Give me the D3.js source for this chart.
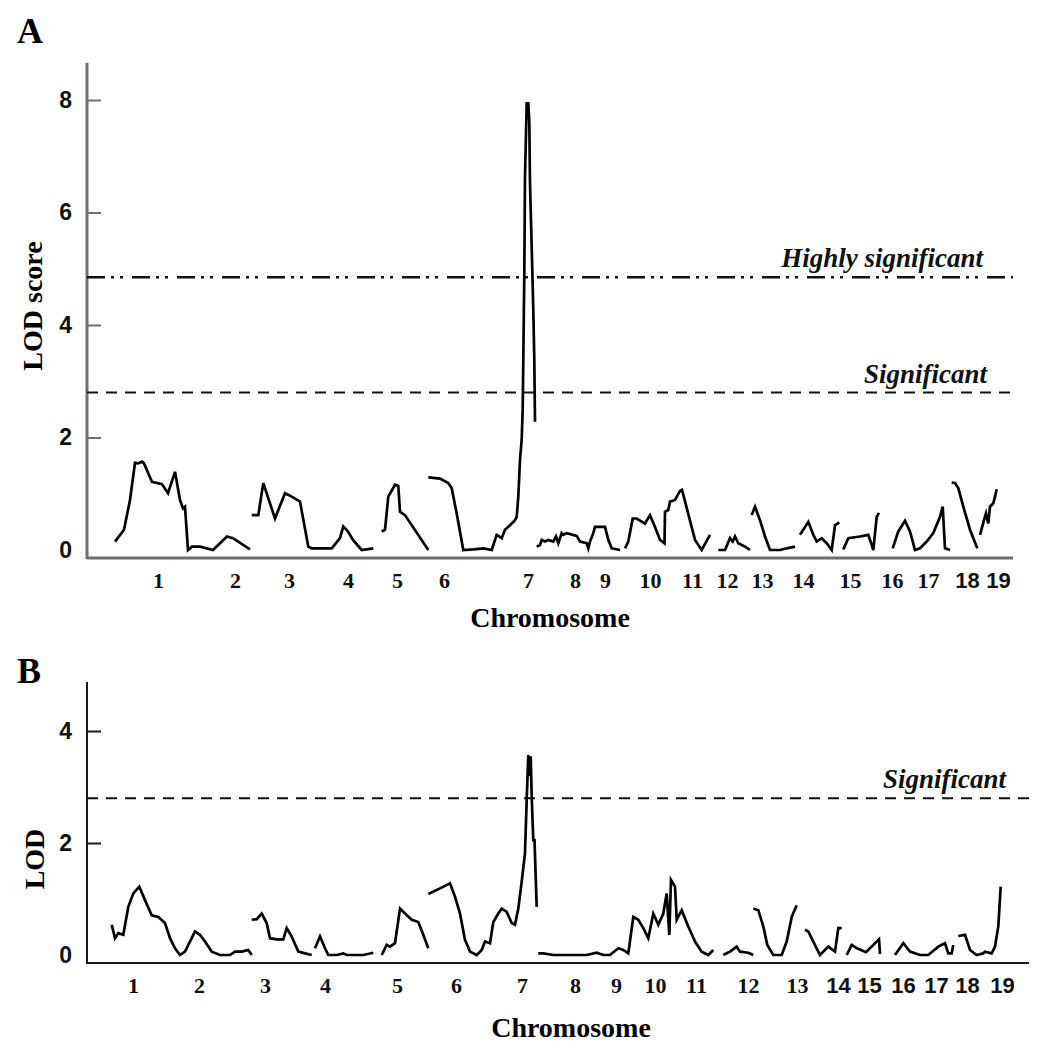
<!DOCTYPE html>
<html lang="en">
<head>
  <meta charset="UTF-8">
  <title>LOD score scan</title>
  <script src="https://d3js.org/d3.v7.min.js"></script>
  <style>
    body { margin: 0; padding: 0; background: #fff; }
    svg { display: block; }
    .serif { font-family: 'Liberation Serif', 'Times New Roman', serif; font-weight: bold; }
    .sans { font-family: 'Liberation Sans', Arial, sans-serif; font-weight: bold; }
  </style>
</head>
<body>
  <svg id="chart" width="1041" height="1050"></svg>

  <script>
    // chromosome names on the x axis
    const chromosomes = ["1","2","3","4","5","6","7","8","9","10","11","12","13","14","15","16","17","18","19"];

    // ---- panel A ----
    // label positions along the genome (map units from the axis origin)
    const labelPosA = [71,148,202,261,310,357,441,488,518,563,605,640,675,716,763,805,841,880,911];
    const sansLabelsA = ["18","19"];
    const yTicksA = [0,2,4,6,8];
    const significantA = 2.8;
    const highlySignificantA = 4.85;

    // LOD profile, one array of [position, LOD] per drawn stretch
    const segmentsA = [
      // chr 1-2
      [[28,0.15],[37,0.36],[43,0.89],[48,1.55],[51,1.54],[55,1.57],[57,1.54],[65,1.21],[75,1.17],[81,1.01],
       [88,1.39],[93,0.89],[96,0.74],[98,0.77],[101,0.0],[105,0.06],[113,0.06],[126,0.0],[140,0.24],[146,0.21],[163,0.01]],
      // chr 3-4
      [[164.7,0.62],[171.3,0.62],[176.3,1.19],[188,0.56],[198,1.01],[204.7,0.95],[213,0.86],[221.3,0.06],[224.7,0.03],
       [244.7,0.03],[253,0.21],[256.3,0.42],[261,0.33],[266,0.18],[274.7,0.0],[286.3,0.03]],
      // chr 5
      [[294.7,0.33],[298,0.36],[301.3,0.95],[308,1.16],[311.3,1.14],[313,0.68],[318,0.62],[341.3,0.0]],
      // chr 6-7
      [[341.3,1.29],[353,1.27],[361.3,1.19],[364.7,1.10],[369.7,0.65],[376.3,0.0],[386.3,0.01],[396.3,0.03],[404.7,0.0],
       [409.7,0.27],[414.7,0.21],[418,0.36],[423,0.44],[428,0.53],[429.7,0.59],[431.3,0.95],[433,1.60],[434.7,1.97],
       [435.7,2.5],[436.3,3.38],[437.3,4.92],[438,6.64],[439.7,7.94],[441.3,7.94],[442.3,7.61],[443,6.52],[444.7,5.39],
       [446.3,4.27],[447.3,3.38],[448,2.28]],
      // chr 8-9
      [[449.7,0.06],[453,0.09],[454.7,0.18],[458,0.15],[461.3,0.18],[466.3,0.15],[469,0.24],[471.3,0.12],[474.7,0.30],
       [476.3,0.27],[479.7,0.30],[489.7,0.25],[493,0.15],[499.7,0.12],[501.3,0.03],[503,0.15],[506.3,0.30],[508,0.41],
       [518,0.41],[521.3,0.18],[524.7,0.03],[533,0.0]],
      // chr 10-11
      [[538,0.03],[541.3,0.15],[545.7,0.56],[549.7,0.56],[558,0.47],[563,0.62],[568,0.41],[573,0.18],[577.5,0.12],
       [578,0.68],[581.3,0.71],[583,0.86],[588,0.89],[593,1.05],[595,1.07],[608,0.18],[614.7,0.0],[623,0.27]],
      // chr 12
      [[631.3,0.0],[638,0.0],[643,0.21],[645.7,0.15],[648,0.24],[651.3,0.12],[654.7,0.09],[658,0.06],[663,0.0]],
      // chr 13
      [[664.7,0.62],[668,0.77],[673,0.53],[678,0.24],[683,0.0],[693,0.0],[699.7,0.03],[708,0.06]],
      // chr 14
      [[713,0.27],[721.3,0.50],[726.3,0.27],[729.7,0.15],[734.7,0.21],[739.7,0.12],[744.7,0.0],[748,0.44],[752.3,0.49]],
      // chr 15
      [[756.3,0.01],[761.3,0.21],[773,0.24],[781.3,0.27],[784.7,0.09],[786.3,0.0],[789.7,0.59],[792,0.66]],
      // chr 16-17
      [[805.7,0.03],[811.3,0.33],[818,0.52],[823,0.33],[828,0.0],[833,0.03],[839.7,0.15],[846.3,0.30],[853,0.59],
       [855.7,0.77],[858,0.03],[863,0.0]],
      // chr 18
      [[864.7,1.20],[868,1.19],[871.3,1.10],[876.3,0.77],[883,0.36],[890.3,0.03]],
      // chr 19
      [[893,0.27],[897,0.53],[899,0.65],[901.3,0.47],[903,0.77],[906.3,0.83],[908,0.95],[909.7,1.08]]
    ];

    // ---- panel B ----
    const labelPosB = [46,112,178,238,310,369,435,488,529,568,609,661,710,751,782,816,849,880,915];
    const sansLabelsB = ["14","15","16","17","18","19"];
    const yTicksB = [0,2,4];
    const significantB = 2.8;

    const segmentsB = [
      // chr 1-2
      [[24.7,0.54],[28,0.30],[31.3,0.39],[36.3,0.36],[41.3,0.86],[46.3,1.10],[52.3,1.22],[58,0.98],[64.7,0.71],
       [71.3,0.68],[78,0.57],[83,0.30],[88,0.12],[93,0.0],[98,0.06],[103,0.24],[108,0.42],[113,0.36],[118,0.24],
       [124.7,0.06],[133,0.0],[143,0.0],[148,0.06],[154.7,0.06],[161.3,0.09],[164.7,0.0]],
      // chr 3
      [[164.7,0.63],[169.7,0.64],[174.7,0.74],[179.7,0.57],[183,0.30],[189.7,0.28],[196.3,0.28],[199.7,0.48],
       [204.7,0.33],[211.3,0.06],[218,0.03],[224.7,0.0]],
      // chr 4
      [[228,0.12],[233,0.33],[238,0.12],[241.3,0.0],[249.7,0.0],[256.3,0.03],[259.7,0.0],[266.3,0.0],[276.3,0.0],[286.3,0.04]],
      // chr 5
      [[294.7,0.0],[299.7,0.18],[303,0.15],[308,0.21],[313,0.83],[318,0.74],[324.7,0.63],[331.3,0.59],[336.3,0.36],[341.3,0.12]],
      // chr 6-7
      [[341.3,1.09],[353,1.19],[363,1.28],[368,1.04],[373,0.74],[378,0.27],[383,0.06],[389.7,0.0],[394.7,0.09],
       [398,0.24],[403,0.21],[406.3,0.59],[411.3,0.74],[414.7,0.83],[419.7,0.77],[424.7,0.57],[428,0.54],[431.3,0.83],
       [434.7,1.31],[438,1.82],[439.7,2.77],[441.3,3.57],[442.5,3.2],[443.7,3.55],[444.7,2.83],[446.3,2.05],
       [447.5,2.05],[449.7,0.86]],
      // chr 8-11
      [[451.3,0.03],[456.3,0.03],[466.3,0.0],[473,0.0],[486.3,0.0],[499.7,0.0],[509.7,0.04],[516.3,0.0],[523,0.0],
       [531.3,0.12],[536.3,0.09],[541.3,0.03],[546.3,0.68],[551.3,0.63],[556.3,0.48],[561.3,0.30],[566.3,0.74],
       [571.3,0.54],[576.3,0.74],[579.7,1.10],[582.3,0.36],[584,1.34],[588,1.22],[589.7,0.63],[594.7,0.80],
       [601.3,0.51],[608,0.24],[614.7,0.06],[621.3,0.0],[626.3,0.09]],
      // chr 12
      [[636.3,0.0],[643,0.06],[649.7,0.15],[653,0.06],[661.3,0.04],[666.3,0.0]],
      // chr 13
      [[666.3,0.83],[671.3,0.80],[676.3,0.51],[680.3,0.18],[686.3,0.0],[694.7,0.0],[699.7,0.24],[704.7,0.68],[709.7,0.89]],
      // chr 14
      [[718,0.45],[721.3,0.42],[726.3,0.24],[733,0.0],[741.3,0.15],[748,0.06],[751.3,0.48],[754.7,0.48]],
      // chr 15
      [[759.7,0.0],[764.7,0.18],[770,0.12],[779,0.05],[792,0.28],[793,0.02]],
      // chr 16-17
      [[808,0.0],[816.3,0.21],[823,0.06],[833,0.0],[841.3,0.0],[851.3,0.15],[858,0.21],[861.3,0.03],[864.7,0.03],[866.3,0.18]],
      // chr 18-19
      [[871.3,0.34],[878,0.36],[883,0.09],[889.7,0.0],[896.3,0.03],[898,0.06],[904.7,0.03],[908,0.15],[911.3,0.51],[913.7,1.22]]
    ];

    const svg = d3.select("#chart");

    function drawPanel(p) {
      const g = svg.append("g");
      const x = d3.scaleLinear().domain([0, p.xLength]).range([p.left, p.left + p.xLength]);
      const y = d3.scaleLinear().domain([0, p.yMax]).range([p.zeroY, p.topTickY]);
      const baseY = p.zeroY + 8;

      // panel letter
      g.append("text").attr("class", "serif")
        .attr("x", 17).attr("y", p.letterY)
        .attr("font-size", 36).text(p.letter);

      // y axis with inward ticks
      const yAxis = g.append("g")
        .attr("transform", `translate(${p.left},0)`)
        .call(d3.axisLeft(y).tickValues(p.yTicks).tickFormat(d3.format("d"))
          .tickSizeInner(-14).tickSizeOuter(0).tickPadding(15));
      yAxis.select(".domain").remove();
      yAxis.selectAll(".tick line").attr("stroke", p.axisColor).attr("stroke-width", 2)
        .filter(d => d === 0).remove();
      yAxis.selectAll(".tick text").attr("class", "sans").attr("font-size", 23).attr("fill", "#111");

      g.append("line")
        .attr("x1", p.left).attr("x2", p.left)
        .attr("y1", baseY + 1).attr("y2", p.axisTop)
        .attr("stroke", p.axisColor).attr("stroke-width", p.axisWidth);

      // x axis with chromosome names
      const xAxis = g.append("g")
        .attr("transform", `translate(0,${baseY})`)
        .call(d3.axisBottom(x).tickValues(p.labelPos)
          .tickFormat((d, i) => chromosomes[i]).tickSize(0).tickPadding(14));
      xAxis.select(".domain").remove();
      xAxis.selectAll(".tick text")
        .attr("class", (d, i) => p.sansLabels.includes(chromosomes[i]) ? "sans" : "serif")
        .attr("font-size", 22).attr("fill", "#111");

      g.append("line")
        .attr("x1", p.left).attr("x2", x(p.xLength))
        .attr("y1", baseY).attr("y2", baseY)
        .attr("stroke", p.axisColor).attr("stroke-width", p.axisWidth);

      // threshold lines
      p.thresholds.forEach(t => {
        g.append("line")
          .attr("x1", p.left).attr("x2", x(p.xLength))
          .attr("y1", y(t.value)).attr("y2", y(t.value))
          .attr("stroke", "#111").attr("stroke-width", t.width)
          .attr("stroke-dasharray", t.dash);
        g.append("text").attr("class", "serif")
          .attr("font-style", "italic").attr("font-size", 27)
          .attr("text-anchor", "end")
          .attr("x", x(p.xLength) - t.labelInset).attr("y", y(t.value) - 10)
          .attr("fill", "#111").text(t.label);
      });

      // LOD profile
      const line = d3.line().x(d => x(d[0])).y(d => y(d[1]));
      g.selectAll("path.lod").data(p.segments).join("path")
        .attr("class", "lod")
        .attr("d", line)
        .attr("fill", "none").attr("stroke", "#000").attr("stroke-width", 2.7);

      // axis titles
      g.append("text").attr("class", "serif")
        .attr("font-size", 28).attr("text-anchor", "middle")
        .attr("transform", `translate(${p.yTitleX},${p.yTitleY}) rotate(-90)`)
        .text(p.yTitle);
      g.append("text").attr("class", "serif")
        .attr("font-size", 28).attr("text-anchor", "middle")
        .attr("x", p.xTitleX).attr("y", p.xTitleY)
        .text("Chromosome");
    }

    drawPanel({
      letter: "A", letterY: 43,
      left: 87, xLength: 926, zeroY: 550, topTickY: 100, yMax: 8, axisTop: 63,
      yTicks: yTicksA, labelPos: labelPosA, sansLabels: sansLabelsA,
      axisColor: "#6e6e6e", axisWidth: 3,
      segments: segmentsA,
      thresholds: [
        { value: highlySignificantA, label: "Highly significant", dash: "18 6 3 6 3 9", width: 2.5, labelInset: 30 },
        { value: significantA, label: "Significant", dash: "11 8", width: 2, labelInset: 26 }
      ],
      yTitle: "LOD score", yTitleX: 42, yTitleY: 306,
      xTitleX: 550, xTitleY: 627
    });

    drawPanel({
      letter: "B", letterY: 683,
      left: 87, xLength: 942, zeroY: 955, topTickY: 731, yMax: 4, axisTop: 682,
      yTicks: yTicksB, labelPos: labelPosB, sansLabels: sansLabelsB,
      axisColor: "#1a1a1a", axisWidth: 2,
      segments: segmentsB,
      thresholds: [
        { value: significantB, label: "Significant", dash: "11 8", width: 2, labelInset: 23 }
      ],
      yTitle: "LOD", yTitleX: 44, yTitleY: 859,
      xTitleX: 571, xTitleY: 1037
    });
  </script>
</body>
</html>
